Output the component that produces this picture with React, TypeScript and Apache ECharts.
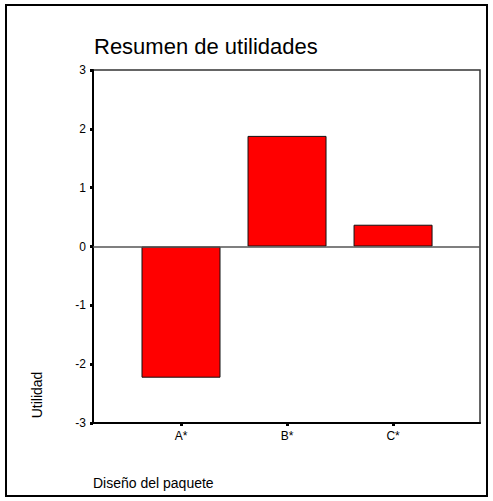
import React, { useEffect, useRef } from "react";
import * as echarts from "echarts";

const categories = ["A*", "B*", "C*"];
const values = [-2.23, 1.88, 0.37];
const yTicks = [-3, -2, -1, 0, 1, 2, 3];
const titleText = "Resumen de utilidades";
const xTitle = "Diseño del paquete";
const yTitle = "Utilidad";

const FONT = "Liberation Sans, Arial, Helvetica, sans-serif";

export default function App() {
  const ref = useRef<HTMLDivElement>(null);
  useEffect(() => {
    if (!ref.current) return;
    const chart = echarts.init(ref.current, undefined, { renderer: "svg" });
    const catIdx = categories.map((_, i) => i);
    chart.setOption({
      animation: false,
      backgroundColor: "#ffffff",
      title: {
        text: titleText,
        left: 89,
        top: 30,
        textStyle: { fontFamily: FONT, fontSize: 22, fontWeight: "normal", color: "#000" },
      },
      grid: {
        left: 93,
        top: 70,
        right: 13,
        bottom: 78,
        show: true,
        borderColor: "#333",
        borderWidth: 1.5,
        backgroundColor: "transparent",
      },
      xAxis: {
        type: "value",
        min: -0.83,
        max: 2.82,
        splitLine: { show: false },
        axisLine: { show: true, onZero: false, lineStyle: { color: "#000", width: 2 } },
        axisTick: {
          show: true,
          customValues: catIdx,
          length: 3,
          lineStyle: { color: "#000", width: 3 },
        },
        axisLabel: {
          customValues: catIdx,
          formatter: (v: number) => categories[Math.round(v)] ?? "",
          fontFamily: FONT,
          fontSize: 12,
          color: "#000",
          margin: 7,
        },
      },
      yAxis: {
        type: "value",
        min: yTicks[0],
        max: yTicks[yTicks.length - 1],
        interval: 1,
        splitLine: { show: false },
        axisLine: { show: true, onZero: false, lineStyle: { color: "#000", width: 2 } },
        axisTick: { show: true, length: 3, lineStyle: { color: "#000", width: 3 } },
        axisLabel: { fontFamily: FONT, fontSize: 12, color: "#000", margin: 7 },
      },
      series: [
        {
          type: "bar",
          data: values.map((v, i) => [i, v]),
          barWidth: 79,
          itemStyle: { color: "#ff0000", borderColor: "#111", borderWidth: 1 },
          markLine: {
            silent: true,
            symbol: "none",
            label: { show: false },
            lineStyle: { color: "#555", width: 1.5, type: "solid" },
            data: [{ yAxis: 0 }],
          },
        },
      ],
      graphic: [
        {
          type: "rect",
          shape: { x: 6, y: 5, width: 481, height: 491 },
          style: { fill: "none", stroke: "#000", lineWidth: 2 },
          silent: true,
        },
        {
          type: "text",
          x: 93,
          y: 483,
          style: {
            text: xTitle,
            fontFamily: FONT,
            fontSize: 14,
            fill: "#000",
            verticalAlign: "middle",
            align: "left",
          },
        },
        {
          type: "text",
          x: 37,
          y: 395,
          rotation: Math.PI / 2,
          style: {
            text: yTitle,
            fontFamily: FONT,
            fontSize: 14,
            fill: "#000",
            verticalAlign: "middle",
            align: "center",
          },
        },
      ],
    });
    return () => chart.dispose();
  }, []);
  return (
    <div
      ref={ref}
      style={{ position: "fixed", left: 0, top: 0, width: 493, height: 501 }}
    />
  );
}
